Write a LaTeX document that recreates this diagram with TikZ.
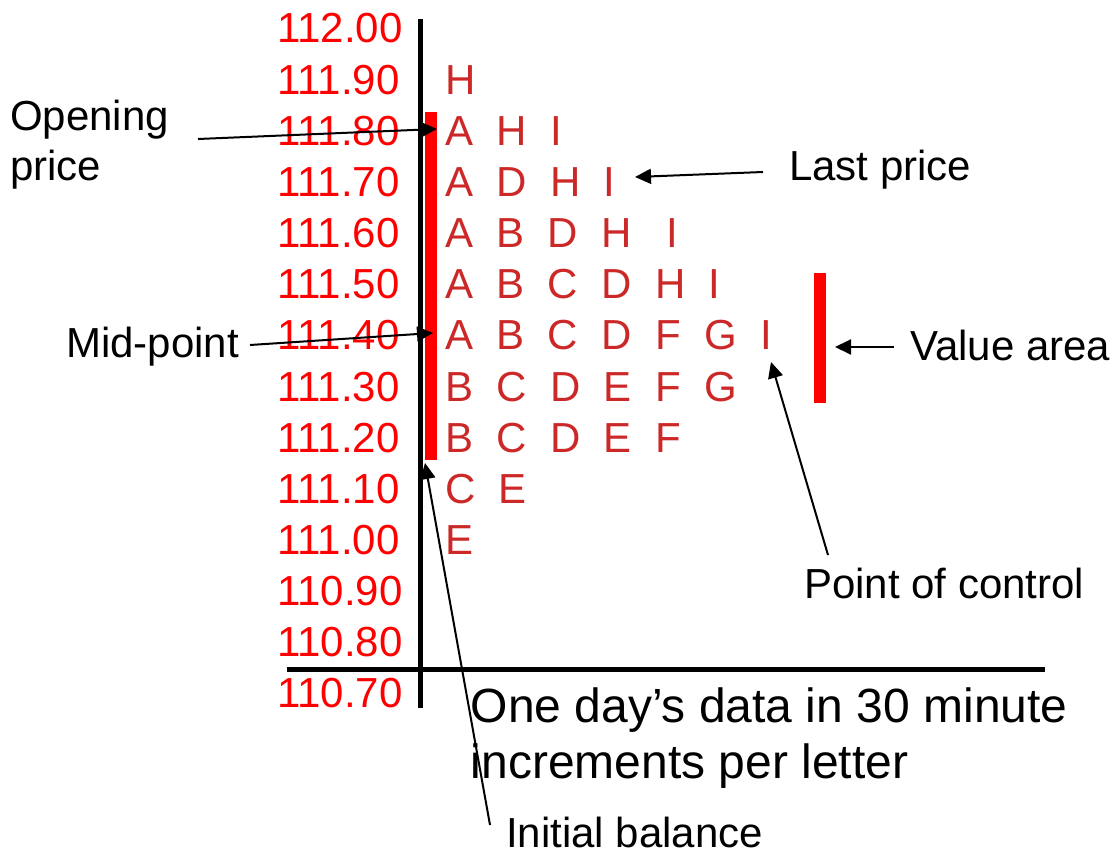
\documentclass[tikz,border=0pt]{standalone}
\usepackage{fontspec}
\setmainfont{Liberation Sans}
\usetikzlibrary{arrows.meta}
\definecolor{lred}{RGB}{204,40,40}
\definecolor{pred}{RGB}{255,0,0}
\tikzset{
  price/.style={anchor=base west, inner sep=0pt, text=pred, font=\fontsize{42}{50}\selectfont},
  letters/.style={anchor=base west, inner sep=0pt, text=lred, font=\fontsize{42}{50}\selectfont},
  lbl/.style={anchor=base west, inner sep=0pt, text=black, font=\fontsize{42}{50}\selectfont, align=left},
  biglbl/.style={anchor=base west, inner sep=0pt, text=black, font=\fontsize{48}{56}\selectfont, align=left},
  axisline/.style={line width=5pt, black},
  bar/.style={fill=pred, draw=none},
  callout/.style={line width=2pt, black, -{Triangle[length=16pt,width=15pt]}},
}
\begin{document}
\begin{tikzpicture}[x=1pt,y=-1pt]
\fill[white] (0,0) rectangle (1113,851);
\useasboundingbox (0,0) rectangle (1113,851);

% price labels
\foreach \i/\p in {0/112.00,1/111.90,2/111.80,3/111.70,4/111.60,5/111.50,6/111.40,7/111.30,8/111.20,9/111.10,10/111.00,11/110.90,12/110.80,13/110.70}{
  \node[price] (p\i) at (277,{43+51.15*\i}) {\p};
}

% letter rows
\foreach \i/\t in {1/H,2/A~~H~~I,3/A~~D~~H~~I,4/A~~B~~D~~H~~~I,5/A~~B~~C~~D~~H~~I,6/A~~B~~C~~D~~F~~G~~I,7/B~~C~~D~~E~~F~~G,8/B~~C~~D~~E~~F,9/C~~E,10/E}{
  \node[letters] (r\i) at (445,{43+51.15*\i}) {\t};
}

% axes
\draw[axisline] (420,19) -- (420,708);
\draw[axisline] (287,669.5) -- (1045,669.5);

% bars
\path[bar] (425,112) rectangle (437,460);
\path[bar] (814,273) rectangle (826,403);

% labels
\node[lbl] (open) at (10,180) {Opening\\price};
\node[lbl] (mid) at (66,357) {Mid-point};
\node[lbl] (last) at (789,180) {Last price};
\node[lbl] (value) at (910,360) {Value area};
\node[lbl] (poc) at (804,598) {Point of control};
\node[biglbl] (day) at (470.5,778) {One day’s data in 30 minute\\increments per letter};
\node[lbl, align=none, text depth=0pt] (ib) at (506,847) {Initial balance};

% connector ends
\coordinate (openT) at (198,139);
\coordinate (openH) at (437,129);
\coordinate (midT) at (250,345);
\coordinate (midH) at (433,333);
\coordinate (lastT) at (763,172);
\coordinate (lastH) at (635,177);
\coordinate (valT) at (894,347);
\coordinate (valH) at (835,347);
\coordinate (pocT) at (828,555);
\coordinate (pocH) at (771,362);
\coordinate (ibT) at (490,825);
\coordinate (ibH) at (425,463);

\draw[callout] (openT) -- (openH);
\draw[callout] (midT) -- (midH);
\draw[callout] (lastT) -- (lastH);
\draw[callout] (valT) -- (valH);
\draw[callout] (pocT) -- (pocH);
\draw[callout] (ibT) -- (ibH);
\end{tikzpicture}
\end{document}
